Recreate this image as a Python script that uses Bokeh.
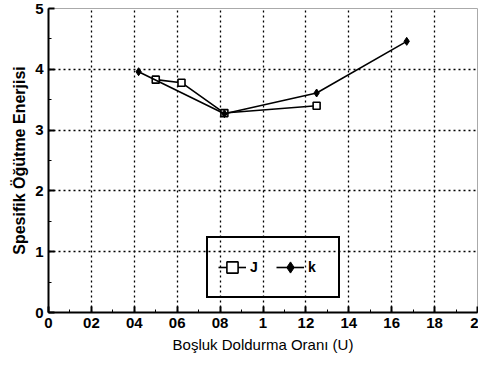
from bokeh.plotting import figure
from bokeh.models import FixedTicker, Legend, LegendItem, Range1d
from bokeh.embed import file_html
from bokeh.resources import INLINE

# Data
j_x = [0.50, 0.62, 0.82, 1.25]
j_y = [3.83, 3.78, 3.28, 3.40]
k_x = [0.42, 0.82, 1.25, 1.67]
k_y = [3.96, 3.27, 3.61, 4.46]

x_ticks = [0, 0.2, 0.4, 0.6, 0.8, 1.0, 1.2, 1.4, 1.6, 1.8, 2.0]
x_tick_labels = ["0", "02", "04", "06", "08", "1", "12", "14", "16", "18", "2"]
y_ticks = [0, 1, 2, 3, 4, 5]

p = figure(width=478, height=358, output_backend="svg", toolbar_location=None,
           x_range=Range1d(0, 2), y_range=Range1d(0, 5),
           min_border_left=48, min_border_right=1, min_border_top=8, min_border_bottom=46)

p.xaxis.ticker = FixedTicker(ticks=x_ticks, minor_ticks=[i / 10 for i in range(21)])
p.yaxis.ticker = FixedTicker(ticks=y_ticks, minor_ticks=[i / 2 for i in range(11)])
p.xaxis.major_label_overrides = {t: l for t, l in zip(x_ticks, x_tick_labels)}

for ax in (p.xaxis, p.yaxis):
    ax.axis_line_width = 2
    ax.axis_line_color = "black"
    ax.major_tick_in = 6
    ax.major_tick_out = 0
    ax.minor_tick_in = 3
    ax.minor_tick_out = 0
    ax.major_tick_line_width = 2
    ax.major_label_text_font = "Liberation Sans"
    ax.major_label_text_font_style = "bold"
    ax.major_label_text_font_size = "15px"
    ax.major_label_text_color = "black"
    ax.axis_label_text_color = "black"

p.xaxis.major_label_standoff = 5
p.yaxis.major_label_standoff = 5
p.xaxis.axis_label = "Boşluk Doldurma Oranı (U)"
p.xaxis.axis_label_text_font = "Liberation Sans"
p.xaxis.axis_label_text_font_style = "normal"
p.xaxis.axis_label_text_font_size = "15px"
p.xaxis.axis_label_standoff = 5
p.yaxis.axis_label = "Spesifik Öğütme Enerjisi"
p.yaxis.axis_label_text_font = "Liberation Sans"
p.yaxis.axis_label_text_font_style = "bold"
p.yaxis.axis_label_text_font_size = "16px"
p.yaxis.axis_label_standoff = 4

p.grid.grid_line_color = "black"
p.grid.grid_line_dash = "2 3"
p.grid.grid_line_width = 1.3
p.outline_line_color = "#aaaaaa"
p.outline_line_width = 1

lj = p.line(j_x, j_y, line_color="black", line_width=1.6)
mj = p.scatter(j_x, j_y, marker="square", size=7, line_color="black",
               fill_color="white", line_width=1.6)
lk = p.line(k_x, k_y, line_color="black", line_width=1.6)
mk = p.scatter(k_x, k_y, marker="diamond", size=8, line_color="black",
               fill_color="black")

legend = Legend(items=[LegendItem(label="J", renderers=[lj, mj]),
                       LegendItem(label="k", renderers=[lk, mk])],
                orientation="horizontal", location=(158, 14),
                border_line_color="black", border_line_width=2, border_line_alpha=1,
                background_fill_alpha=0, glyph_width=28, glyph_height=38,
                label_text_font="Liberation Sans", label_text_font_style="bold",
                label_text_font_size="14px", label_text_color="black",
                padding=10, spacing=6, label_standoff=4)
p.add_layout(legend)

open("out.html", "w").write(file_html(p, INLINE))
